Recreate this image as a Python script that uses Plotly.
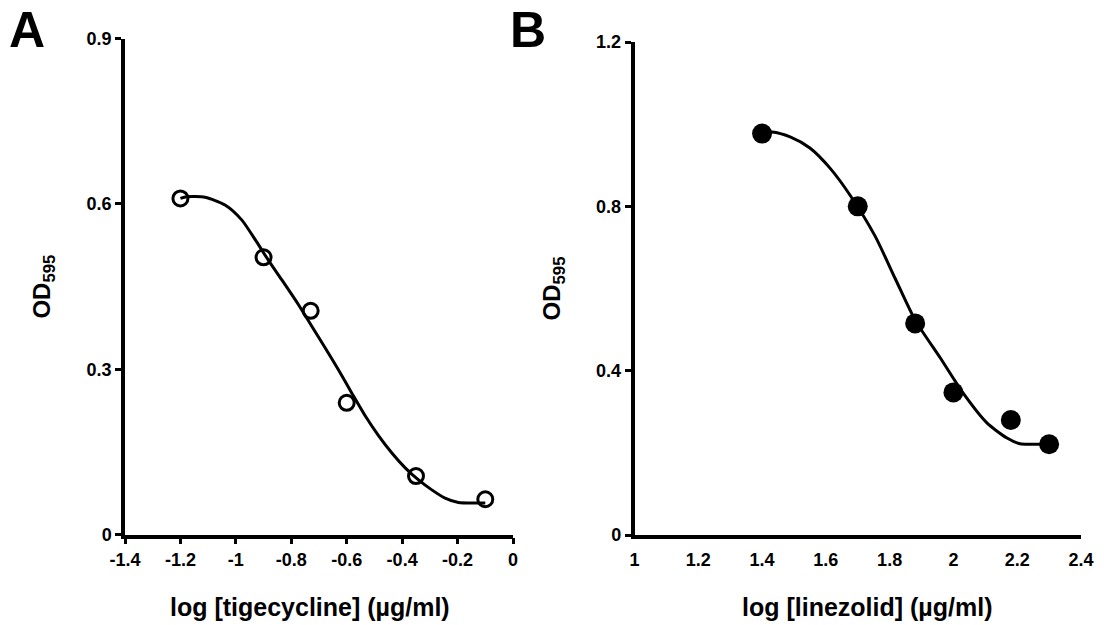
import plotly.graph_objects as go

# ---------------- Data ----------------
# Panel A: tigecycline
tige_log_conc = [-1.2, -0.9, -0.73, -0.6, -0.35, -0.1]
tige_od = [0.610, 0.503, 0.406, 0.239, 0.106, 0.064]
tige_fit_x = [-1.2, -1.177, -1.111, -1.039, -0.979, -0.925, -0.883, -0.834,
              -0.774, -0.726, -0.678, -0.630, -0.582, -0.534, -0.486, -0.437,
              -0.389, -0.341, -0.293, -0.245, -0.197, -0.136, -0.1]
tige_fit_y = [0.610, 0.613, 0.612, 0.598, 0.571, 0.531, 0.498, 0.462,
              0.417, 0.378, 0.339, 0.299, 0.257, 0.216, 0.180, 0.148,
              0.121, 0.099, 0.081, 0.066, 0.058, 0.057, 0.057]

# Panel B: linezolid
lin_log_conc = [1.40, 1.70, 1.88, 2.00, 2.18, 2.30]
lin_od = [0.977, 0.800, 0.515, 0.347, 0.280, 0.221]
lin_fit_x = [1.400, 1.431, 1.488, 1.550, 1.613, 1.676, 1.754, 1.817,
             1.880, 1.958, 2.030, 2.105, 2.168, 2.209, 2.250, 2.303]
lin_fit_y = [0.979, 0.981, 0.969, 0.942, 0.893, 0.827, 0.728, 0.625,
             0.523, 0.432, 0.346, 0.273, 0.236, 0.222, 0.221, 0.221]

# Tick labels
a_xtick_vals = [-1.4, -1.2, -1.0, -0.8, -0.6, -0.4, -0.2, 0.0]
a_xtick_text = ["-1.4", "-1.2", "-1", "-0.8", "-0.6", "-0.4", "-0.2", "0"]
a_ytick_vals = [0, 0.3, 0.6, 0.9]
a_ytick_text = ["0", "0.3", "0.6", "0.9"]
b_xtick_vals = [1.0, 1.2, 1.4, 1.6, 1.8, 2.0, 2.2, 2.4]
b_xtick_text = ["1", "1.2", "1.4", "1.6", "1.8", "2", "2.2", "2.4"]
b_ytick_vals = [0, 0.4, 0.8, 1.2]
b_ytick_text = ["0", "0.4", "0.8", "1.2"]
b_xtick_mark_count = 7  # the reference draws 7 tick marks under 8 labels

x_title_a = "log [tigecycline] (µg/ml)"
x_title_b = "log [linezolid] (µg/ml)"
y_title = "OD<sub>595</sub>"

# ---------------- Styling ----------------
FONT = "Arial, Liberation Sans, Helvetica, sans-serif"
tickfont = dict(family=FONT, size=18, color="black", weight="bold")
xtitlefont = dict(family=FONT, size=25, color="black", weight="bold")
ytitlefont = dict(family=FONT, size=24, color="black", weight="bold")

OFF = 8                      # page body margin of the html page
W, H = 1104 - OFF, 625 - OFF


def px(x):
    return (x - OFF) / W


def py(y):
    return 1 - (y - OFF) / H


axA_x = [px(125), px(513)]
axB_x = [px(634.5), px(1081)]
axA_y = [py(534.5), py(38.6)]
axB_y = [py(535), py(42)]

fig = go.Figure()

fig.add_trace(go.Scatter(x=tige_fit_x, y=tige_fit_y, mode="lines",
                         line=dict(color="black", width=3, shape="spline", smoothing=0.7),
                         xaxis="x", yaxis="y", showlegend=False, hoverinfo="skip"))
fig.add_trace(go.Scatter(x=tige_log_conc, y=tige_od, mode="markers",
                         marker=dict(symbol="circle-open", size=15, color="black",
                                     line=dict(width=3, color="black")),
                         xaxis="x", yaxis="y", showlegend=False))

fig.add_trace(go.Scatter(x=lin_fit_x, y=lin_fit_y, mode="lines",
                         line=dict(color="black", width=3, shape="spline", smoothing=0.7),
                         xaxis="x2", yaxis="y2", showlegend=False, hoverinfo="skip"))
fig.add_trace(go.Scatter(x=lin_log_conc, y=lin_od, mode="markers",
                         marker=dict(symbol="circle", size=20, color="black"),
                         xaxis="x2", yaxis="y2", showlegend=False))

common = dict(showline=True, linewidth=3.5, linecolor="black", ticks="outside",
              ticklen=6, tickwidth=3, tickcolor="black", showgrid=False,
              zeroline=False, tickfont=tickfont, mirror=False, automargin=False)

b_lo, b_hi = b_xtick_vals[0], b_xtick_vals[-1]
b_mark_vals = [b_lo + k * (b_hi - b_lo) / (b_xtick_mark_count - 1)
               for k in range(b_xtick_mark_count)]

fig.update_layout(
    width=W, height=H,
    margin=dict(l=0, r=0, t=0, b=0),
    paper_bgcolor="white", plot_bgcolor="white",
    xaxis=dict(domain=axA_x, anchor="y", range=[-1.4, 0],
               tickmode="array", tickvals=a_xtick_vals, ticktext=a_xtick_text,
               **common),
    yaxis=dict(domain=axA_y, anchor="x", range=[0, 0.9],
               tickmode="array", tickvals=a_ytick_vals, ticktext=a_ytick_text,
               title=dict(text=y_title, font=ytitlefont, standoff=30), **common),
    xaxis2=dict(domain=axB_x, anchor="y2", range=[b_lo, b_hi],
                tickmode="array", tickvals=b_xtick_vals, ticktext=b_xtick_text,
                **{**common, "tickcolor": "rgba(0,0,0,0)"}),
    yaxis2=dict(domain=axB_y, anchor="x2", range=[0, 1.2],
                tickmode="array", tickvals=b_ytick_vals, ticktext=b_ytick_text,
                title=dict(text=y_title, font=ytitlefont, standoff=30), **common),
    xaxis3=dict(domain=axB_x, anchor="y2", overlaying="x2", range=[b_lo, b_hi],
                tickmode="array", tickvals=b_mark_vals, showticklabels=False,
                showline=False, showgrid=False, zeroline=False, ticks="outside",
                ticklen=6, tickwidth=3, tickcolor="black"),
    annotations=[
        dict(text="<b>A</b>", x=px(27), y=py(30), xref="paper", yref="paper",
             showarrow=False, xanchor="center", yanchor="middle",
             font=dict(family=FONT, size=50, color="black")),
        dict(text="<b>B</b>", x=px(528), y=py(30), xref="paper", yref="paper",
             showarrow=False, xanchor="center", yanchor="middle",
             font=dict(family=FONT, size=50, color="black")),
        dict(text=x_title_a, x=px(310), y=py(607), xref="paper", yref="paper",
             showarrow=False, xanchor="center", yanchor="middle", font=xtitlefont),
        dict(text=x_title_b, x=px(867), y=py(607), xref="paper", yref="paper",
             showarrow=False, xanchor="center", yanchor="middle", font=xtitlefont),
    ],
)

fig.write_html("out.html")
